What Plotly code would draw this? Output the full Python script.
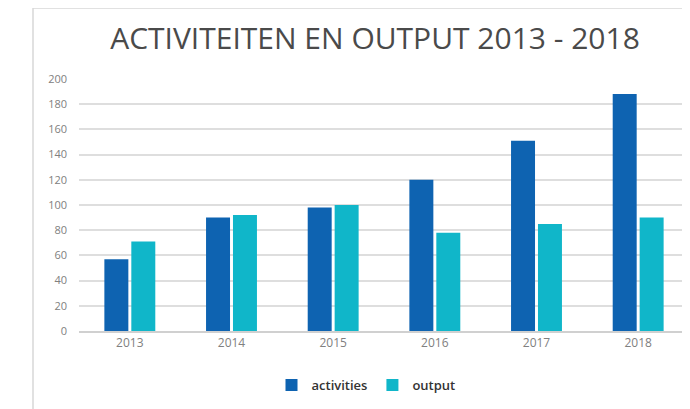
import plotly.graph_objects as go

years = ["2013", "2014", "2015", "2016", "2017", "2018"]
activities = [57, 90, 98, 120, 151, 188]
output = [71, 92, 100, 78, 85, 90]
y_ticks = [0, 20, 40, 60, 80, 100, 120, 140, 160, 180, 200]

fig = go.Figure()
fig.add_trace(go.Bar(name="activities", x=years, y=activities, marker_color="#0E63B1",
                     marker_line_width=0))
fig.add_trace(go.Bar(name="output", x=years, y=output, marker_color="#10B6C9",
                     marker_line_width=0))

OFF = 8  # page body margin
W, H = 690 - OFF, 409 - OFF
L, T = 79 - OFF, 79 - OFF
R = W - (689 - OFF)
B = H - (331 - OFF)
pw = W - L - R
ph = H - T - B

def px(x):
    return (x - OFF - L) / pw

def py(y):
    return (H - B - (y - OFF)) / ph

fig.update_layout(
    width=W, height=H,
    margin=dict(l=L, r=R, t=T, b=B, autoexpand=False),
    paper_bgcolor="white", plot_bgcolor="white",
    barmode="group", bargap=0.47, bargroupgap=0.11,
    font=dict(family="Open Sans", color="#777"),
    title=dict(text="ACTIVITEITEN EN OUTPUT 2013 - 2018", x=(375 - OFF) / W, xanchor="center",
               y=1 - (38 - OFF) / H, yanchor="middle",
               font=dict(family="Open Sans", size=30, color="#4a4a4a")),
    legend=dict(orientation="h", x=px(366), xanchor="center", y=py(385), yanchor="middle",
                font=dict(family="Open Sans", size=13, color="#333", weight=600),
                traceorder="normal"),
    xaxis=dict(tickfont=dict(size=12, color="#808080"), showline=True, linecolor="#d0d0d0",
               linewidth=1.5, ticks=""),
    yaxis=dict(range=[0, 200], tickvals=y_ticks, tickfont=dict(size=11, color="#808080"),
               showgrid=True, gridcolor="#dedede", gridwidth=1.5, zeroline=False,
               ticks="", ticklabelstandoff=11),
    shapes=[dict(type="rect", xref="paper", yref="paper", x0=px(33), x1=1.2,
                 y0=-1, y1=py(8), line=dict(color="#d8d8d8", width=1.5),
                 layer="below")],
)

fig.write_html("out.html")
